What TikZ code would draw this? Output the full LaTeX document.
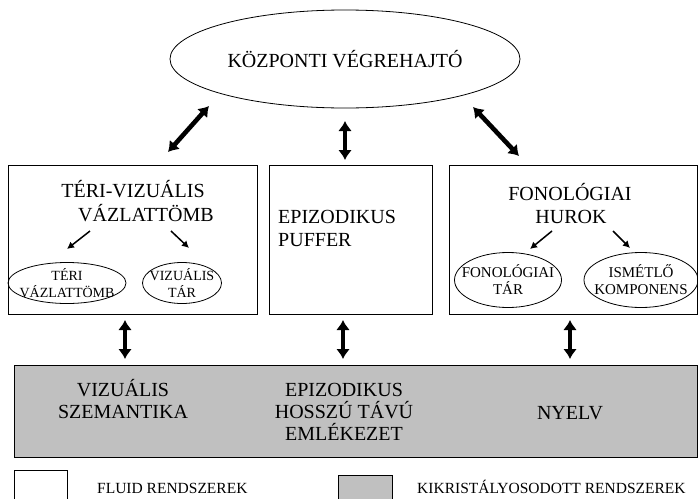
\documentclass[tikz,border=0pt]{standalone}
\usepackage{fontspec}
\setmainfont{Liberation Serif}
\usetikzlibrary{arrows.meta,positioning,shapes.geometric}
\definecolor{kristaly}{RGB}{192,192,192}

\tikzset{
  fluid/.style={draw, line width=1pt, fill=white, inner sep=0pt, anchor=north west},
  kris/.style={draw, line width=1pt, fill=kristaly, inner sep=0pt, anchor=north west},
  tar/.style={ellipse, draw, line width=0.8pt, inner sep=0pt},
  nagy/.style={font=\fontsize{20}{23}\selectfont, inner sep=0pt, anchor=base},
  kicsi/.style={font=\fontsize{14}{16.5}\selectfont, align=center, inner sep=0pt},
  jel/.style={font=\fontsize{15.5}{18}\selectfont, inner sep=0pt, anchor=base west},
  kettos/.style={line width=4.6pt, {Latex[length=10pt,width=14pt]}-{Latex[length=10pt,width=14pt]}},
  nyil/.style={line width=1.5pt, -{Latex[length=7pt,width=7.5pt]}},
}

\begin{document}
\begin{tikzpicture}[x=1pt,y=-1pt]
\useasboundingbox (0,0) rectangle (698,498);
\clip (0,0) rectangle (698,498);

\node[tar, minimum width=350pt, minimum height=98pt, font=\fontsize{20}{23}\selectfont] (kv) at (345,59) {KÖZPONTI VÉGREHAJTÓ};

\node[fluid, minimum width=249pt, minimum height=149pt] (tv) at (8,165) {};
\node[fluid, minimum width=163pt, minimum height=149pt] (ep) at (269,165) {};
\node[fluid, minimum width=248pt, minimum height=149pt] (fh) at (449,165) {};
\node[kris, minimum width=683pt, minimum height=92pt] (ht) at (14,365) {};

\node[nagy] (tvcim) at (133,197) {TÉRI-VIZUÁLIS};
\node[nagy, anchor=base west] (tvcim2) at (78,221) {VÁZLATTÖMB};
\node[nagy, anchor=base west] (epcim) at (278,223) {EPIZODIKUS};
\node[nagy, anchor=base west] (epcim2) at (278,246) {PUFFER};
\node[nagy] (fhcim) at (570,200) {FONOLÓGIAI};
\node[nagy] (fhcim2) at (571,223) {HUROK};

\node[tar, minimum width=118pt, minimum height=41pt] (ter) at (67,283) {};
\node[kicsi] at (ter.center) {TÉRI\\VÁZLATTÖMB};
\node[tar, minimum width=79pt, minimum height=41pt] (viz) at (182,283) {};
\node[kicsi] at (viz.center) {VIZUÁLIS\\TÁR};
\node[tar, minimum width=107pt, minimum height=55pt] (fon) at (508,280) {};
\node[kicsi, font=\fontsize{15}{17}\selectfont] at (fon.center) {FONOLÓGIAI\\TÁR};
\node[tar, minimum width=114pt, minimum height=55pt] (ism) at (641,280) {};
\node[kicsi, font=\fontsize{15}{17}\selectfont] at (ism.center) {ISMÉTLŐ\\KOMPONENS};

\node[nagy] (hta) at (123,396) {VIZUÁLIS};
\node[nagy] (htb) at (123,418) {SZEMANTIKA};
\node[nagy] (htc) at (344,396) {EPIZODIKUS};
\node[nagy] (htd) at (344,418) {HOSSZÚ TÁVÚ};
\node[nagy] (hte) at (344,440) {EMLÉKEZET};
\node[nagy] (htf) at (570,419) {NYELV};

\node[fluid, minimum width=53pt, minimum height=40pt] (jfluid) at (14,470) {};
\node[jel] (jfluidt) at (97,493) {FLUID RENDSZEREK};
\node[kris, minimum width=54pt, minimum height=35pt] (jkris) at (338,475) {};
\node[jel] (jkrist) at (417,493) {KIKRISTÁLYOSODOTT RENDSZEREK};

\coordinate (ba) at (168,152); \coordinate (bf) at (209,106);
\coordinate (ka) at (345,160); \coordinate (kf) at (345,121);
\coordinate (ja) at (519,156); \coordinate (jf) at (473,107);
\draw[kettos] (ba) -- (bf);
\draw[kettos] (ka) -- (kf);
\draw[kettos] (ja) -- (jf);

\foreach \n/\x in {al1/125, al2/343, al3/570} {
  \coordinate (\n f) at (\x,320);
  \coordinate (\n a) at (\x,359);
  \draw[kettos] (\n f) -- (\n a);
}

\coordinate (t1) at (90,231);  \coordinate (t2) at (67,249);
\coordinate (t3) at (171,231); \coordinate (t4) at (189,248);
\coordinate (f1) at (552,231); \coordinate (f2) at (530,249);
\coordinate (f3) at (613,231); \coordinate (f4) at (630,248);
\draw[nyil] (t1) -- (t2);
\draw[nyil] (t3) -- (t4);
\draw[nyil] (f1) -- (f2);
\draw[nyil] (f3) -- (f4);
\end{tikzpicture}
\end{document}
